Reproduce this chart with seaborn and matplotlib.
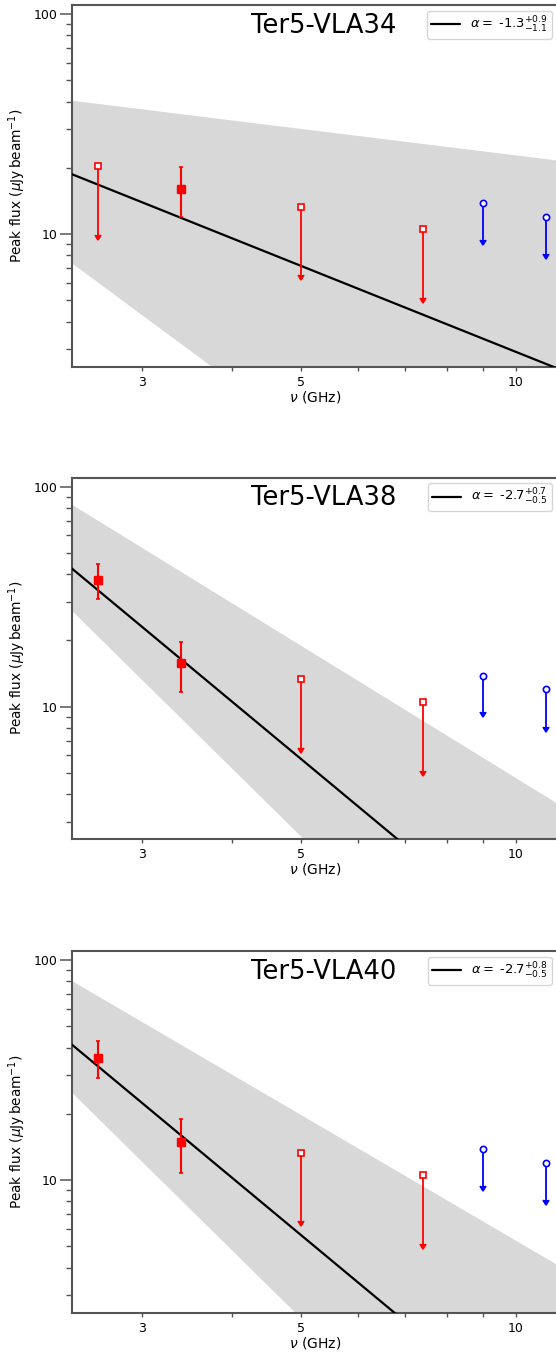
import numpy as np
import pandas as pd
import matplotlib
matplotlib.use("Agg")
import matplotlib.pyplot as plt
import matplotlib.ticker as mticker
import seaborn as sns

# ---------------- data ----------------
names = ["Ter5-VLA34", "Ter5-VLA38", "Ter5-VLA40"]
alpha = [-1.3, -2.7, -2.7]
alpha_plus = [0.9, 0.7, 0.8]
alpha_minus = [1.1, 0.5, 0.5]
# flux normalisation of the fit at 1 GHz (uJy/beam): best fit, upper and lower band edges
norm_fit = [58.1, 446.0, 434.0]
norm_hi = [57.5, 474.0, 422.0]
norm_lo = [59.7, 443.0, 406.0]

# red (VLA) points
freq_red = [2.6, 3.4, 5.0, 7.4]
flux_red = [
    [20.4, 16.1, 13.3, 10.5],
    [37.7, 15.7, 13.3, 10.5],
    [35.9, 14.9, 13.3, 10.5],
]
err_red_lo = [
    [10.5, 4.2, 6.8, 5.4],
    [6.8, 4.1, 6.8, 5.4],
    [6.7, 4.1, 6.8, 5.4],
]
err_red_hi = [
    [0.0, 4.1, 0.0, 0.0],
    [6.7, 4.0, 0.0, 0.0],
    [6.9, 4.0, 0.0, 0.0],
]
is_limit_red = [
    [True, False, True, True],
    [False, False, True, True],
    [False, False, True, True],
]
# blue points (upper limits)
freq_blue = [9.0, 11.0]
flux_blue = [13.8, 12.0]
err_blue = [4.4, 3.9]

xlim = (2.391, 11.43)
ylim = (2.5, 110.0)

# ---------------- style ----------------
sns.set_style("ticks")
plt.rcParams["font.family"] = ["DejaVu Sans"]
plt.rcParams["mathtext.fontset"] = "dejavusans"
plt.rcParams["text.color"] = "black"
plt.rcParams["axes.labelcolor"] = "black"
plt.rcParams["xtick.labelcolor"] = "black"
plt.rcParams["ytick.labelcolor"] = "black"

fig = plt.figure(figsize=(5.56, 13.56), dpi=100)
tops = [5, 477.5, 951]
H = 361.5
W, Hf = 556.0, 1356.0
left_px, right_px = 72.0, 557.5

spine_col = "#555555"

for i in range(3):
    top = tops[i]
    ax = fig.add_axes([left_px / W, 1 - (top + H) / Hf,
                       (right_px - left_px) / W, H / Hf])
    ax.set_xscale("log")
    ax.set_yscale("log")

    grid = np.geomspace(xlim[0], xlim[1], 200)
    up = norm_hi[i] * grid ** (alpha[i] + alpha_plus[i])
    lo = norm_lo[i] * grid ** (alpha[i] - alpha_minus[i])
    ax.fill_between(grid, lo, up, color="gray", alpha=0.3, lw=0, zorder=1)

    fit_df = pd.DataFrame({"nu": grid, "S": norm_fit[i] * grid ** alpha[i]})
    lab = r"$\alpha=$ %.1f$^{+%.1f}_{-%.1f}$" % (alpha[i], alpha_plus[i], alpha_minus[i])
    sns.lineplot(data=fit_df, x="nu", y="S", ax=ax, color="black", lw=1.6,
                 label=lab, zorder=3)

    # red points
    fr = np.array(freq_red)
    fl = np.array(flux_red[i])
    elo = np.array(err_red_lo[i])
    ehi = np.array(err_red_hi[i])
    lim = np.array(is_limit_red[i])
    det = ~lim
    if det.any():
        ax.errorbar(fr[det], fl[det], yerr=[elo[det], ehi[det]], fmt="s",
                    color="red", ms=5.5, elinewidth=1.5, capsize=1.3,
                    capthick=1.2, zorder=4)
    if lim.any():
        ax.errorbar(fr[lim], fl[lim], yerr=elo[lim], uplims=True, fmt="s",
                    color="red", mfc="white", mec="red", mew=1.2, ms=4.5,
                    elinewidth=1.3, capsize=2.3, zorder=4)
    ax.errorbar(freq_blue, flux_blue, yerr=err_blue, uplims=True, fmt="o",
                color="blue", mfc="white", mec="blue", mew=1.2, ms=4.5,
                elinewidth=1.3, capsize=2.3, zorder=4)

    ax.set_xlim(*xlim)
    ax.set_ylim(*ylim)

    ax.xaxis.set_major_locator(mticker.FixedLocator([3, 5, 10]))
    ax.xaxis.set_major_formatter(mticker.FixedFormatter(["3", "5", "10"]))
    ax.xaxis.set_minor_locator(mticker.FixedLocator([4, 6, 7, 8, 9]))
    ax.xaxis.set_minor_formatter(mticker.NullFormatter())
    ax.yaxis.set_major_locator(mticker.FixedLocator([10, 100]))
    ax.yaxis.set_major_formatter(mticker.FixedFormatter(["10", "100"]))
    ax.yaxis.set_minor_locator(mticker.LogLocator(base=10, subs=np.arange(2, 10)))
    ax.yaxis.set_minor_formatter(mticker.NullFormatter())

    ax.tick_params(axis="y", which="major", length=8.5, width=1.1, color=spine_col,
                   labelsize=9, pad=2)
    ax.tick_params(axis="y", which="minor", length=4.3, width=1.0, color=spine_col)
    ax.tick_params(axis="x", which="both", length=2.8, width=1.0, color=spine_col,
                   labelsize=9, pad=4)

    for s in ["left", "top", "bottom", "right"]:
        ax.spines[s].set_color(spine_col)
        ax.spines[s].set_linewidth(1.5)

    ax.set_xlabel(r"$\nu$ (GHz)", fontsize=10, labelpad=0)
    ax.set_ylabel(r"Peak flux ($\mu$Jy$\,$beam$^{-1}$)", fontsize=9.8, labelpad=4)

    ax.text(0.518, 0.978, names[i], transform=ax.transAxes, ha="center",
            va="top", fontsize=18.5)
    leg = ax.legend(loc="upper right", fontsize=9.4, handlelength=2.2,
                    borderaxespad=0.45, borderpad=0.3, framealpha=0.8)

fig.savefig("out.png", dpi=100)
